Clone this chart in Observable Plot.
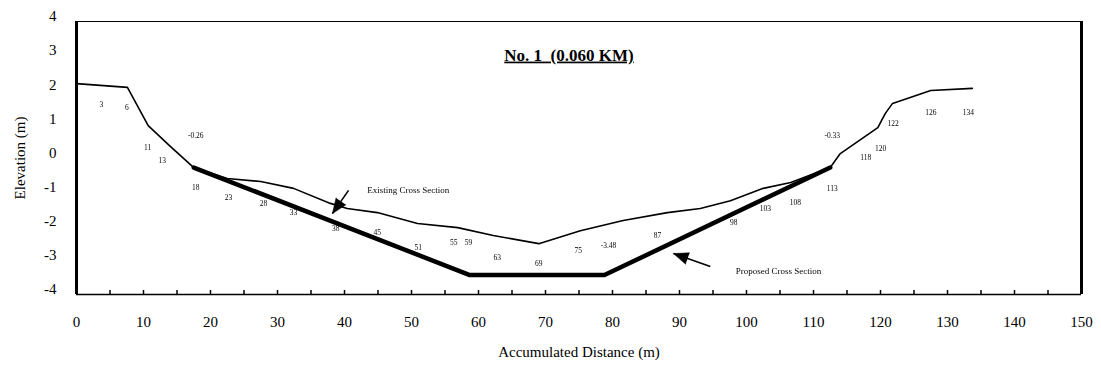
<!DOCTYPE html>
<html>
<head>
<meta charset="utf-8">
<script src="https://cdn.jsdelivr.net/npm/d3@7"></script>
<script src="https://cdn.jsdelivr.net/npm/@observablehq/plot@0.6"></script>
<style>
  html, body { margin: 0; padding: 0; background: #fff; }
  #chart { width: 1101px; height: 371px; }
  #chart svg text { font-family: 'Liberation Serif', 'Times New Roman', serif; }
  .pt-labels { opacity: 0.99; }
</style>
</head>
<body>
<div id="chart"></div>
<script>
// Existing cross section (distance m, elevation m)
const existingDist = [0, 7.6, 10.7, 14.0, 17.5, 22.5, 27.5, 32.4, 37.9, 40.4, 44.9, 50.9, 56.9, 62.2, 69.0, 75.2, 81.6, 88.2, 93.1, 97.6, 102.5, 106.6, 112.5, 114.0, 119.6, 120.7, 121.8, 127.5, 133.7];
const existingElev = [2.18, 2.07, 0.95, 0.34, -0.28, -0.60, -0.69, -0.89, -1.33, -1.48, -1.60, -1.92, -2.04, -2.27, -2.51, -2.13, -1.83, -1.60, -1.48, -1.25, -0.89, -0.72, -0.28, 0.13, 0.89, 1.30, 1.60, 1.98, 2.04];

// Proposed cross section
const proposedDist = [17.5, 58.7, 78.8, 112.5];
const proposedElev = [-0.28, -3.43, -3.43, -0.28];

// Point labels
const pointText = ["3", "6", "-0.26", "11", "13", "18", "23", "28", "33", "38", "45", "51", "55", "59", "63", "69", "75", "-3.48", "87", "98", "103", "108", "113", "-0.33", "118", "120", "122", "126", "134"];
const pointDist = [3.7, 7.5, 17.8, 10.6, 12.8, 17.8, 22.7, 27.9, 32.4, 38.7, 44.9, 51.0, 56.3, 58.5, 62.8, 69.0, 74.9, 79.4, 86.7, 98.1, 102.8, 107.3, 112.8, 112.8, 117.8, 120.0, 121.9, 127.5, 133.1];
const pointElev = [1.57, 1.48, 0.66, 0.31, -0.07, -0.87, -1.16, -1.33, -1.60, -2.07, -2.20, -2.62, -2.48, -2.48, -2.92, -3.09, -2.71, -2.57, -2.27, -1.89, -1.48, -1.30, -0.89, 0.66, 0.01, 0.28, 1.01, 1.33, 1.33];

// Annotations
const noteText = ["Existing Cross Section", "Proposed Cross Section"];
const noteDist = [43.4, 98.4];
const noteElev = [-0.95, -3.30];
const arrowFromDist = [40.6, 94.6];
const arrowFromElev = [-0.95, -3.18];
const arrowToDist = [38.2, 89.1];
const arrowToElev = [-1.63, -2.80];

// Axes
const xTicks = d3.range(0, 151, 10);
const xMinorTicks = d3.range(0, 151, 5);
const yTicks = d3.range(-4, 5, 1);
const xDomain = [0, 150];
const yDomain = [-4, 4];
const titleText = "No. 1  (0.060 KM)";
const xLabel = "Accumulated Distance (m)";
const yLabel = "Elevation (m)";

const existing = existingDist.map((d, i) => ({d, e: existingElev[i]}));
const proposed = proposedDist.map((d, i) => ({d, e: proposedElev[i]}));
const points = pointText.map((t, i) => ({t, d: pointDist[i], e: pointElev[i]}));
const notes = noteText.map((t, i) => ({t, d: noteDist[i], e: noteElev[i]}));
const arrows = arrowFromDist.map((d, i) => ({x1: d, y1: arrowFromElev[i], x2: arrowToDist[i], y2: arrowToElev[i]}));

const FONT = "'Liberation Serif', 'Times New Roman', serif";
const base = {
  width: 1101,
  height: 371,
  marginLeft: 76,
  marginRight: 20,
  marginTop: 21,
  marginBottom: 77,
  style: {fontFamily: FONT, fontSize: "14px", color: "#000", background: "#fff"},
  x: {domain: xDomain},
  y: {domain: yDomain}
};

// first pass: get the scales to orient the arrowheads in screen space
const probe = Plot.plot({...base, marks: [Plot.frame()]});
const sx = probe.scale("x"), sy = probe.scale("y");
arrows.forEach(a => {
  const dx = sx.apply(a.x2) - sx.apply(a.x1);
  const dy = sy.apply(a.y2) - sy.apply(a.y1);
  a.angle = Math.atan2(dx, -dy) * 180 / Math.PI;
});

const chart = Plot.plot({
  ...base,
  marks: [
    Plot.axisX(xMinorTicks, {tickSize: -4, tickFormat: () => "", strokeWidth: 1.5, label: null}),
    Plot.axisX(xTicks, {tickSize: 0, tickPadding: 22, fontSize: 15, fontFamily: FONT, tickFormat: d => String(d), label: xLabel, labelAnchor: "center", labelOffset: 62, labelArrow: "none"}),
    Plot.axisY(yTicks, {tickSize: 0, tickPadding: 20, fontSize: 15, fontFamily: FONT, tickFormat: d => String(d), dy: -5, label: yLabel, labelAnchor: "center", labelOffset: 62, labelArrow: "none"}),
    Plot.ruleY([yDomain[0]], {strokeWidth: 1.5}),
    Plot.ruleY([yDomain[1]], {strokeWidth: 1}),
    Plot.ruleX(xDomain, {strokeWidth: 3}),
    Plot.line(proposed, {x: "d", y: "e", strokeWidth: 4.5, stroke: "#000"}),
    Plot.line(existing, {x: "d", y: "e", strokeWidth: 1.6, stroke: "#000"}),
    Plot.text(points, {x: "d", y: "e", text: "t", fontSize: 7.5, fill: "#000", className: "pt-labels"}),
    Plot.text(notes, {x: "d", y: "e", text: "t", fontSize: 9, textAnchor: "start", fill: "#000", className: "pt-labels"}),
    Plot.link(arrows, {x1: "x1", y1: "y1", x2: "x2", y2: "y2", stroke: "#000", strokeWidth: 1.6}),
    Plot.vector(arrows, {x: "x2", y: "y2", rotate: "angle", length: 15, r: 6, shape: "spike", anchor: "end", fill: "#000", stroke: "#000", strokeWidth: 0.5}),
    Plot.text([titleText], {frameAnchor: "top", dy: 27, dx: -10, text: d => d, fontSize: 17, fontWeight: "bold", className: "chart-title"})
  ]
});

d3.select(chart).selectAll(".chart-title text").style("text-decoration", "underline");
document.getElementById("chart").appendChild(chart);
</script>
</body>
</html>
